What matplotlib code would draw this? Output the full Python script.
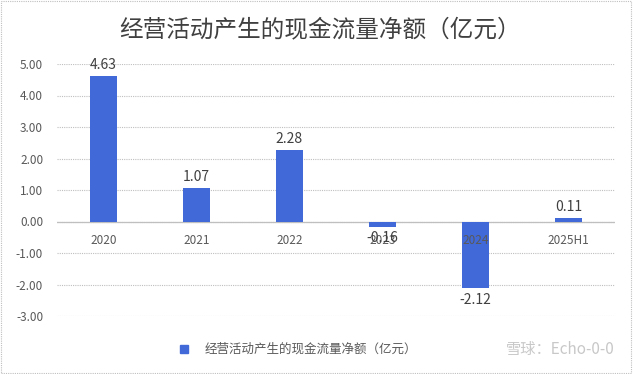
import matplotlib.pyplot as plt
from matplotlib.patches import Rectangle

plt.rcParams['font.family'] = ['Noto Sans CJK SC', 'DejaVu Sans']

# data
years = ['2020', '2021', '2022', '2023', '2024', '2025H1']
cash_flow = [4.63, 1.07, 2.28, -0.16, -2.12, 0.11]
y_ticks = [5, 4, 3, 2, 1, 0, -1, -2, -3]
title = '经营活动产生的现金流量净额（亿元）'

bar_color = '#4169D8'
text_gray = '#595959'

fig = plt.figure(figsize=(6.33, 3.74), dpi=100)
ax = fig.add_axes([57 / 633, 1 - 316 / 374, 558 / 633, 252 / 374])

x = range(len(years))
ax.bar(x, cash_flow, width=0.29, color=bar_color, zorder=3)

ax.set_xlim(-0.5, len(years) - 0.5)
ax.set_ylim(-3, 5)
ax.set_yticks(y_ticks)
ax.set_yticklabels([f'{v:.2f}' for v in y_ticks], color=text_gray, fontsize=8.5)
ax.tick_params(axis='y', length=0, pad=10)
ax.set_xticks([])
for s in ax.spines.values():
    s.set_visible(False)
ax.grid(axis='y', color='#BFBFBF', linestyle=(0, (1, 1)), linewidth=0.8, zorder=0)
ax.axhline(0, color='#BFBFBF', linewidth=0.9, zorder=1)

# category labels sit just under the zero line
for i, yr in enumerate(years):
    ax.text(i, -0.6, yr, ha='center', va='center', fontsize=8.5, color=text_gray)

# data labels
for i, v in enumerate(cash_flow):
    if v >= 0:
        ax.text(i, v + 0.12, f'{v:.2f}', ha='center', va='bottom', fontsize=10, color='#404040')
    else:
        ax.text(i, v - 0.15, f'{v:.2f}', ha='center', va='top', fontsize=10, color='#404040')

fig.text(0.505, 1 - 30 / 374, title, ha='center', va='center', fontsize=17,
         fontweight='medium', color='#404040')

# legend
fig.patches.append(Rectangle((180 / 633, 1 - 353 / 374), 8 / 633, 8 / 374,
                             transform=fig.transFigure, color=bar_color))
fig.text(205 / 633, 1 - 349 / 374, title, ha='left', va='center', fontsize=9, color=text_gray)

# watermark
fig.text(615 / 633, 1 - 349 / 374, '雪球：Echo-0-0', ha='right', va='center',
         fontsize=11, color='#C8C8C8')

# dotted border
fig.patches.append(Rectangle((0.002, 0.003), 0.995, 0.994, transform=fig.transFigure,
                             fill=False, edgecolor='#BFBFBF', linestyle=(0, (1, 1)), linewidth=0.8))

fig.savefig('out.png', dpi=100)
